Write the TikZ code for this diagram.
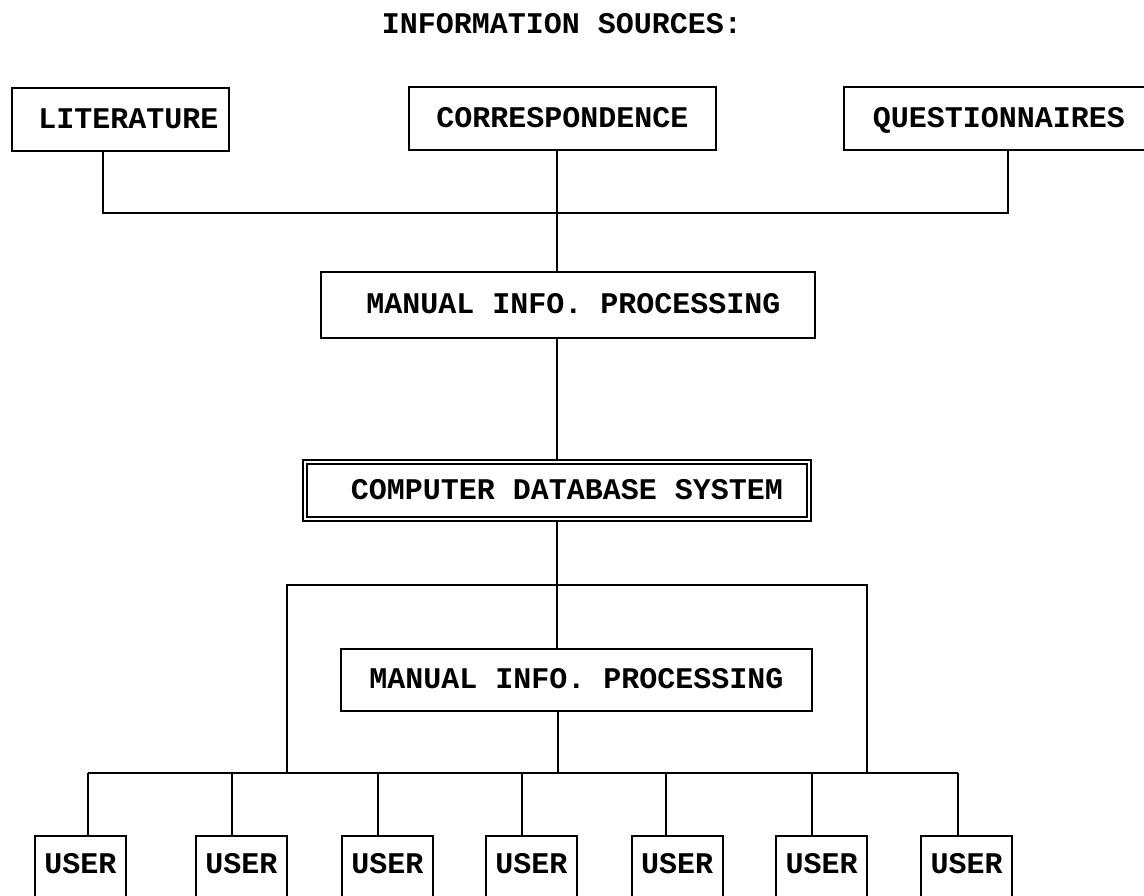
\documentclass[tikz,border=0pt]{standalone}
\usepackage{fontspec}
\setmonofont{Liberation Mono}
\newcommand{\dgfont}{\ttfamily\bfseries\fontsize{30}{30}\selectfont}
\begin{document}
\begin{tikzpicture}[x=1pt,y=-1pt,line width=2pt,
  box/.style={draw,line width=2pt,inner sep=0pt,font=\dgfont,
    text height=17pt,text depth=0pt},
  srcbox/.style={box,minimum height=63pt},
  userbox/.style={draw,line width=2pt,inner sep=0pt,font=\dgfont,
    minimum width=91pt,minimum height=70pt,anchor=north,
    text height=17pt,text depth=13pt},
  dbbox/.style={box,double,double distance=2.5pt,line width=2.2pt}]
\useasboundingbox (0,0) rectangle (1144,895);

% heading
\node[font=\dgfont,anchor=base,inner sep=0pt] (title) at (562,33) {INFORMATION SOURCES:};

% information sources
\node[srcbox,minimum width=217pt] (lit) at (120.5,119.5) {\hspace*{16pt}LITERATURE};
\node[srcbox,minimum width=307pt] (corr) at (562.5,118.5) {CORRESPONDENCE};
\node[srcbox,minimum width=310pt] (quest) at (999,118.5) {QUESTIONNAIRES};

% processing chain
\node[box,minimum width=494pt,minimum height=66pt] (man1) at (568,305) {\hspace*{11pt}MANUAL INFO. PROCESSING};
\node[dbbox,minimum width=504pt,minimum height=57pt] (cdb) at (557,490.5) {\hspace*{20pt}COMPUTER DATABASE SYSTEM};
\node[box,minimum width=471pt,minimum height=62pt] (man2) at (576.5,680) {MANUAL INFO. PROCESSING};

% users
\node[userbox] (u1) at (80.5,835) {USER};
\node[userbox] (u2) at (241.5,835) {USER};
\node[userbox] (u3) at (387.5,835) {USER};
\node[userbox] (u4) at (531.5,835) {USER};
\node[userbox] (u5) at (677,835) {USER};
\node[userbox] (u6) at (821.5,835) {USER};
\node[userbox] (u7) at (966.5,835) {USER};

% junction points
\coordinate (t1) at (103,213);
\coordinate (t2) at (1008,213);
\coordinate (spine) at (557,0);
\coordinate (fl) at (287,585);
\coordinate (fr) at (867,585);
\coordinate (b0) at (558,773);
\coordinate (b1) at (88,773);
\coordinate (b2) at (232,773);
\coordinate (b3) at (378,773);
\coordinate (b4) at (522,773);
\coordinate (b5) at (666,773);
\coordinate (b6) at (812,773);
\coordinate (b7) at (958,773);

% sources into first processing step
\draw (lit.south -| t1) -- (t1) -- (t2) -- (quest.south -| t2);
\draw (corr.south -| spine) -- (man1.north -| spine);
\draw (man1.south -| spine) -- (cdb.north -| spine);
\draw (cdb.south -| spine) -- (man2.north -| spine);

% bypass frame and distribution bus
\draw (fl |- b0) -- (fl) -- (fr) -- (fr |- b0);
\draw (man2.south -| b0) -- (b0);
\draw (b1) -- (b7);
\foreach \i in {1,...,7}
  \draw (b\i) -- (u\i.north -| b\i);
\end{tikzpicture}
\end{document}
